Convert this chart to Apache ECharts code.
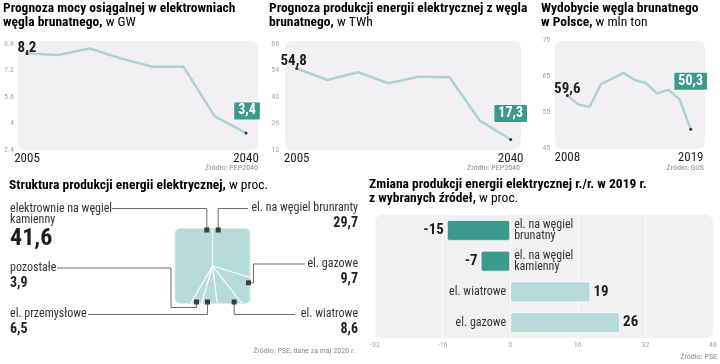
<!DOCTYPE html>
<html><head><meta charset="utf-8">
<script src="https://cdn.jsdelivr.net/npm/echarts@6/dist/echarts.min.js"></script>
<style>html,body{margin:0;padding:0;background:#fff}#c{width:720px;height:364px}</style>
</head><body><div id="c"></div>
<script>
// ---------- DATA ----------
const capYears = ['2005','2010','2015','2020','2025','2030','2035','2040'];
const capValues = [8.2, 8.1, 8.5, 7.9, 7.4, 7.4, 4.4, 3.4];
const prodYears = ['2005','2010','2015','2020','2025','2030','2035','2040'];
const prodValues = [54.8, 48.7, 52.8, 47.0, 50.5, 50.2, 27.1, 17.3];
const miningYears = ['2008','2009','2010','2011','2012','2013','2014','2015','2016','2017','2018','2019'];
const miningValues = [59.6, 57.1, 56.5, 62.8, 64.3, 65.9, 63.9, 63.1, 60.2, 61.2, 58.6, 50.3];
const shareNames = ['el. na węgiel brunranty', 'el. gazowe', 'el. wiatrowe', 'el. przemysłowe', 'pozostałe', 'elektrownie na węgiel\nkamienny'];
const shareValues = [29.7, 9.7, 8.6, 6.5, 3.9, 41.6];
const changeNames = ['el. na węgiel\nbrunatny', 'el. na węgiel\nkamienny', 'el. wiatrowe', 'el. gazowe'];
const changeValues = [-15, -7, 19, 26];

// ---------- STYLE / LAYOUT ----------
const NARROW = '"Liberation Sans Narrow","Roboto Condensed","DejaVu Sans Condensed",Roboto,sans-serif';
const TEAL = '#3b9a8b', LIGHT = '#b7dbd8', LINE = '#acd5cf', BG = '#f3f0f3';
const fmt = v => v.toFixed(1).replace('.', ',');

function lineData(vals, firstOff, lastOff) {
  const n = vals.length;
  return vals.map((v, i) => {
    if (i === 0) return {value: v, symbolSize: 3, itemStyle: {color: '#333'},
      label: {show: true, position: 'inside', offset: firstOff, formatter: p => fmt(p.value),
        fontFamily: NARROW, fontWeight: 'bold', fontSize: 15, color: '#1e1e1e'}};
    if (i === n - 1) return {value: v, symbolSize: 3, itemStyle: {color: '#333'},
      label: {show: true, position: 'inside', offset: lastOff, formatter: p => fmt(p.value),
        fontFamily: NARROW, fontWeight: 'bold', fontSize: 14, color: '#fff',
        backgroundColor: TEAL, padding: [2, 4, 1, 4], borderRadius: 1}};
    return {value: v, symbolSize: 0};
  });
}
function lineSeries(idx, vals, firstOff, lastOff) {
  return {type: 'line', xAxisIndex: idx, yAxisIndex: idx, data: lineData(vals, firstOff, lastOff),
    symbol: 'circle', showSymbol: true, lineStyle: {color: LINE, width: 2.5}, itemStyle: {color: LINE},
    z: 3, silent: true, animation: false};
}
function catAxis(idx, cats) {
  return {type: 'category', gridIndex: idx, data: cats, boundaryGap: false,
    axisLine: {show: false}, axisTick: {show: false}, splitLine: {show: false},
    axisLabel: {interval: (i) => i === 0 || i === cats.length - 1, margin: 3,
      fontFamily: NARROW, fontSize: 13, color: '#222'}};
}
function valAxis(idx, min, max, interval, margin) {
  return {type: 'value', gridIndex: idx, min, max, interval,
    axisLine: {show: false}, axisTick: {show: false}, splitLine: {show: false},
    axisLabel: {margin, fontFamily: NARROW, fontSize: 8, color: '#a8a8a8',
      formatter: v => String(Math.round(v * 10) / 10)}};
}

// square "pie"
const PIE = {cx: 212.5, cy: 266, h: 37.5};
const PIE_LAYOUT = [
  {m: 9,   route: [['v', 208.5], ['h', 248]], lx: 358, ly: 208, align: 'right'},
  {m: 115, route: [['h', 253.5], ['v', 264], ['h', 305]], lx: 358, ly: 264, align: 'right'},
  {m: 149, route: [['v', 314.5], ['h', 295]], lx: 358, ly: 314, align: 'right'},
  {m: 188, route: [['v', 314.5], ['h', 88]], lx: 10, ly: 314, align: 'left'},
  {m: 204, route: [['v', 307.5], ['h', 171], ['v', 268], ['h', 57]], lx: 10, ly: 268, align: 'left'},
  {m: 351, route: [['v', 208.5], ['h', 112]], lx: 10, ly: 203, align: 'left', big: true}
];
const shareTotal = shareValues.reduce((a, b) => a + b, 0);
const shareStart = shareValues.map((v, i) => shareValues.slice(0, i).reduce((a, b) => a + b, 0));
function edgePoint(deg, inset) {
  const a = deg * Math.PI / 180, dx = Math.sin(a), dy = -Math.cos(a);
  const h = PIE.h - (inset || 0);
  const t = h / Math.max(Math.abs(dx), Math.abs(dy));
  return [PIE.cx + dx * t, PIE.cy + dy * t];
}
function renderPie(params, api) {
  const i = params.dataIndex;
  const L = PIE_LAYOUT[i];
  const children = [];
  if (i === 0) {
    children.push({type: 'rect', shape: {x: PIE.cx - PIE.h, y: PIE.cy - PIE.h, width: 2 * PIE.h, height: 2 * PIE.h, r: 5},
      style: {fill: LIGHT, stroke: '#d9ecea', lineWidth: 1}});
  }
  const startDeg = shareStart[i] / shareTotal * 360;
  const ep = edgePoint(startDeg, 0.5);
  children.push({type: 'line', shape: {x1: PIE.cx, y1: PIE.cy, x2: ep[0], y2: ep[1]},
    style: {stroke: '#ffffff', lineWidth: 1.2}});
  const mp = edgePoint(L.m, 1.5);
  const pts = [mp.slice()];
  let cur = mp.slice();
  L.route.forEach(r => { cur = r[0] === 'v' ? [cur[0], r[1]] : [r[1], cur[1]]; pts.push(cur.slice()); });
  children.push({type: 'polyline', shape: {points: pts}, style: {stroke: '#6a6a6a', lineWidth: 1, fill: null}});
  children.push({type: 'rect', shape: {x: mp[0] - 2.5, y: mp[1] - 2.5, width: 5, height: 5},
    style: {fill: '#3d3d3d'}});
  const name = shareNames[i];
  const val = fmt(api.value(0));
  if (L.big) {
    children.push({type: 'text', style: {text: name, x: L.lx, y: L.ly, textAlign: L.align, textVerticalAlign: 'top',
      font: '12px ' + NARROW, fill: '#333', lineHeight: 11}});
    children.push({type: 'text', style: {text: val, x: L.lx, y: L.ly + 24, textAlign: L.align, textVerticalAlign: 'top',
      font: 'bold 24px ' + NARROW, fill: '#1e1e1e'}});
  } else {
    children.push({type: 'text', style: {text: name, x: L.lx, y: L.ly, textAlign: L.align, textVerticalAlign: 'middle',
      font: '12px ' + NARROW, fill: '#333'}});
    children.push({type: 'text', style: {text: val, x: L.lx, y: L.ly + 15, textAlign: L.align, textVerticalAlign: 'middle',
      font: 'bold 14px ' + NARROW, fill: '#1e1e1e'}});
  }
  return {type: 'group', children};
}

// titles
const titleRich = {
  b: {fontFamily: NARROW, fontWeight: 'bold', fontSize: 13.5, color: '#1a1a1a', lineHeight: 14},
  n: {fontFamily: NARROW, fontSize: 13.5, color: '#7a7a7a', lineHeight: 14}
};
function title(x, y, text) {
  return {type: 'text', x, y, style: {text, rich: titleRich, textVerticalAlign: 'top'}, z: 10};
}
function src(x, y, text) {
  return {type: 'text', x, y, style: {text, textAlign: 'right', textVerticalAlign: 'middle',
    font: '8px ' + NARROW, fill: '#8a8a8a'}, z: 10};
}
function bgRect(x, y, w, h) {
  return {type: 'rect', shape: {x, y, width: w, height: h, r: 7}, style: {fill: BG}, z: -10};
}

const chart = echarts.init(document.getElementById('c'), null, {renderer: 'canvas'});
chart.setOption({
  animation: false,
  backgroundColor: '#ffffff',
  grid: [
    {left: 27, top: 43.5, width: 219, height: 106},
    {left: 296.7, top: 43.5, width: 214, height: 106},
    {left: 567.3, top: 40, width: 123.4, height: 108.3},
    {left: 375, top: 215, width: 338, height: 123}
  ],
  xAxis: [
    catAxis(0, capYears), catAxis(1, prodYears), catAxis(2, miningYears),
    {type: 'value', gridIndex: 3, min: -32, max: 48, interval: 16,
      axisLine: {show: false}, axisTick: {show: false},
      splitLine: {show: true, lineStyle: {color: '#fbfafb', width: 1}},
      axisLabel: {margin: 3, fontFamily: NARROW, fontSize: 8, color: '#a8a8a8'}}
  ],
  yAxis: [
    valAxis(0, 2.4, 8.8, 1.6, 13), valAxis(1, 12, 68, 14, 17.5), valAxis(2, 45, 75, 10, 17),
    {type: 'category', gridIndex: 3, data: changeNames, inverse: true,
      axisLine: {show: false}, axisTick: {show: false}, axisLabel: {show: false}, splitLine: {show: false}}
  ],
  series: [
    lineSeries(0, capValues, [0, -5], [1, -22]),
    lineSeries(1, prodValues, [-3, -7], [0, -26]),
    lineSeries(2, miningValues, [0, -6], [0, -48]),
    {type: 'bar', xAxisIndex: 3, yAxisIndex: 3, barWidth: 21, barGap: '-100%',
      data: changeValues.map(v => ({value: v, itemStyle: {color: v < 0 ? TEAL : LIGHT}})),
      itemStyle: {borderColor: 'rgba(255,255,255,0.7)', borderWidth: 1, borderRadius: 2},
      label: {show: true, position: 'outside', distance: 3, formatter: p => String(p.value),
        fontFamily: NARROW, fontWeight: 'bold', fontSize: 15, color: '#1e1e1e'}, z: 2},
    {type: 'bar', xAxisIndex: 3, yAxisIndex: 3, barWidth: 21, barGap: '-100%',
      data: changeValues.map(v => ({value: v, label: {position: v < 0 ? 'right' : 'left'}})),
      itemStyle: {color: 'rgba(0,0,0,0)'},
      label: {show: true, distance: 4, formatter: p => p.name,
        fontFamily: NARROW, fontSize: 12, lineHeight: 11, color: '#333'}, z: 3},
    {type: 'custom', coordinateSystem: 'none', renderItem: renderPie, data: shareValues, z: 3, silent: true}
  ],
  graphic: {elements: [
    bgRect(18, 41, 240, 109), bgRect(285, 41, 236, 109), bgRect(555, 41, 150, 108), bgRect(375, 215, 338, 123),
    title(3, 2, '{b|Prognoza mocy osiągalnej w elektrowniach}\n{b|węgla brunatnego,}{n| w GW}'),
    title(269, 2, '{b|Prognoza produkcji energii elektrycznej z węgla}\n{b|brunatnego,}{n| w TWh}'),
    title(541, 2, '{b|Wydobycie węgla brunatnego}\n{b|w Polsce,}{n| w mln ton}'),
    title(9, 179, '{b|Struktura produkcji energii elektrycznej,}{n| w proc.}'),
    title(369, 178, '{b|Zmiana produkcji energii elektrycznej r./r. w 2019 r.}\n{b|z wybranych źródeł,}{n| w proc.}'),
    src(258, 168, 'Źródło: PEP2040'), src(520, 168, 'Źródło: PEP2040'), src(704, 168, 'Źródło: GUS'),
    src(355, 351, 'Źródło: PSE, dane za maj 2020 r.'), src(717, 357, 'Źródło: PSE')
  ]}
});
</script></body></html>
